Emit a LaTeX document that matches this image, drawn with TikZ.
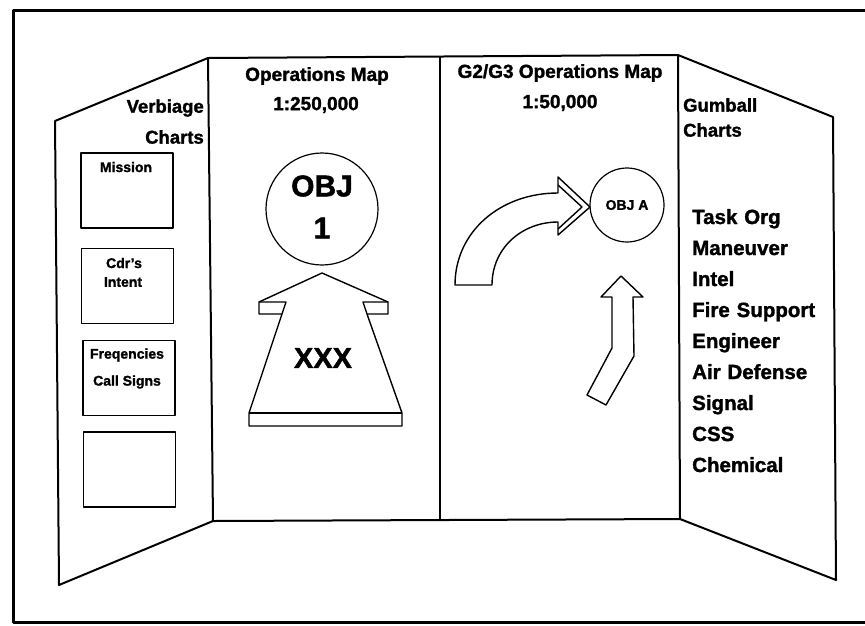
\documentclass[tikz,border=0pt]{standalone}
\usepackage{fontspec}
\setmainfont{Liberation Sans}[BoldFeatures={FakeBold=1.5}]
\usetikzlibrary{positioning}

\begin{document}
\begin{tikzpicture}[x=1pt, y=-1pt, line join=round, node distance=12.6pt,
    panel/.style={line width=2pt},
    sketch/.style={line width=1.4pt},
    chartbox/.style={draw, line width=1.4pt, minimum width=92pt, minimum height=75pt, inner sep=0pt},
    boxtext/.style={font=\fontsize{14}{15}\selectfont\bfseries, inner sep=0pt},
    title/.style={font=\fontsize{19}{20}\selectfont\bfseries, inner sep=0pt},
    wingtitle/.style={font=\fontsize{18.5}{19}\selectfont\bfseries, inner sep=0pt},
    bigtext/.style={font=\fontsize{30}{30}\selectfont\bfseries, inner sep=0pt},
    item/.style={font=\fontsize{20.5}{21}\selectfont\bfseries, text width=140pt, align=left,
                 text height=14pt, text depth=4pt, inner sep=0pt}]
  \useasboundingbox (0,0) rectangle (865,625);

  % outer frame
  \draw[line width=3pt] (865,10) -- (13,10) -- (13,622) -- (865,622);

  % the three-fold board
  \draw[panel] (55,121) -- (208,58) -- (213,521) -- (59,585) -- cycle;
  \draw[panel] (208,58) -- (678,55) -- (680,519) -- (213,521);
  \draw[panel] (440,57) -- (440,520);
  \draw[panel] (678,55) -- (833,117) -- (836,580) -- (680,519);

  % left wing: verbiage charts
  \node[wingtitle, anchor=east] (verb) at (204,108) {Verbiage};
  \node[wingtitle, anchor=east] (verbc) at (204,137) {Charts};
  \node[chartbox] (mission) at (127,190.5) {};
  \node[chartbox] (intent) at (127.5,286) {};
  \node[chartbox] (freq) at (129,378) {};
  \node[chartbox] (blank) at (129.5,469.5) {};
  \node[boxtext] (missiont) at (126,167) {Mission};
  \node[boxtext] (cdr) at (124,263) {Cdr's};
  \node[boxtext] (intentt) at (123,282) {Intent};
  \node[boxtext] (freqt) at (127,355) {Freqencies};
  \node[boxtext] (callt) at (127,382) {Call Signs};

  % operations map
  \node[title] (opmap) at (317,76) {Operations Map};
  \node[title] (opscale) at (316,105) {1:250,000};
  \node[draw, circle, line width=1.2pt, minimum size=112pt, inner sep=0pt] (obj1) at (322,209) {};
  \node[bigtext] (objt) at (322,186) {OBJ};
  \node[bigtext] (objn) at (322,228) {1};
  \draw[sketch] (322,273) -- (259,302) -- (259,314) -- (282,314) -- (249,413) -- (249,426)
    -- (402,426) -- (402,413) -- (367,314) -- (388,314) -- (388,302) -- cycle;
  \draw[sketch] (259,302) -- (286,302) -- (282,314);
  \draw[sketch] (388,302) -- (363,302) -- (367,314);
  \draw[sketch] (249,413) -- (402,413);
  \node[bigtext, font=\fontsize{29}{29}\selectfont\bfseries] (xxx) at (323,358) {XXX};

  % G2/G3 operations map
  \node[title] (g2map) at (560,73) {G2/G3 Operations Map};
  \node[title] (g2scale) at (560,103) {1:50,000};
  \node[draw, circle, line width=1.2pt, minimum size=74pt, inner sep=0pt,
        font=\fontsize{14}{14}\selectfont\bfseries] (obja) at (627,205) {OBJ A};
  \draw[sketch] (455,285) .. controls (455,232) and (500,193) .. (558,193)
    -- (558,177) -- (590,207) -- (558,235) -- (558,222)
    .. controls (522,222) and (492,248) .. (492,285) -- cycle;
  \draw[sketch] (558,185) -- (582,207) -- (558,229);
  \draw[sketch] (621,276) -- (643,297) -- (633,297) -- (634,356) -- (606,405)
    -- (587,395) -- (612,348) -- (612,297) -- (601,297) -- cycle;

  % right wing: gumball charts
  \node[wingtitle, anchor=west] (gum) at (683,105) {Gumball};
  \node[wingtitle, anchor=west] (gumc) at (683,130) {Charts};
  \node[item, anchor=west] (task) at (692,219) {Task Org};
  \node[item, below=of task] (man) {Maneuver};
  \node[item, below=of man] (intel) {Intel};
  \node[item, below=of intel] (fire) {Fire Support};
  \node[item, below=of fire] (eng) {Engineer};
  \node[item, below=of eng] (air) {Air Defense};
  \node[item, below=of air] (sig) {Signal};
  \node[item, below=of sig] (css) {CSS};
  \node[item, below=of css] (chem) {Chemical};
\end{tikzpicture}
\end{document}
